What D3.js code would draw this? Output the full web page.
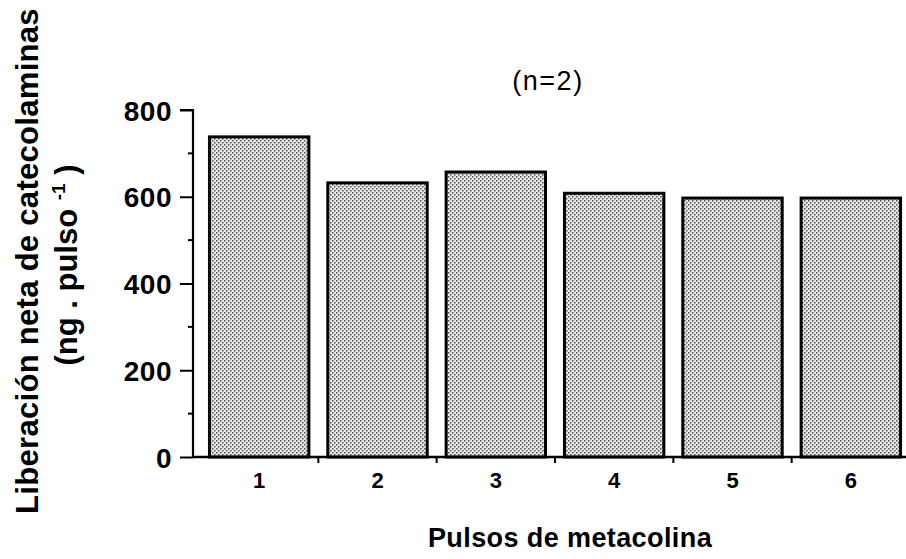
<!DOCTYPE html>
<html><head><meta charset="utf-8">
<script src="https://cdn.jsdelivr.net/npm/d3@7"></script>
<style>
html,body{margin:0;padding:0;background:#fff;}
text{font-family:"Liberation Sans",Arial,Helvetica,sans-serif;fill:#000;}
</style></head>
<body>
<svg id="chart" width="906" height="559"></svg>
<script>
const categories = ["1","2","3","4","5","6"];
const values = [738, 632, 657, 608, 597, 597];
const yTicks = [0, 200, 400, 600, 800];
const yMinorTicks = [100, 300, 500, 700];
const title = "(n=2)";
const xLabel = "Pulsos de metacolina";
const yLabel1 = "Liberación neta de catecolaminas";

const svg = d3.select("#chart");
const defs = svg.append("defs");
const pat = defs.append("pattern").attr("id","stip").attr("patternUnits","userSpaceOnUse")
  .attr("width",4).attr("height",4);
pat.append("rect").attr("width",4).attr("height",4).attr("fill","#e6e6e6");
pat.append("rect").attr("x",0).attr("y",0).attr("width",1.5).attr("height",1.5).attr("fill","#555");
pat.append("rect").attr("x",2).attr("y",2).attr("width",1.5).attr("height",1.5).attr("fill","#555");

const x = d3.scaleBand().domain(categories).range([200, 910]).paddingInner(0.16).paddingOuter(0.08);
const y = d3.scaleLinear().domain([0, 800]).range([457, 110]);
const axisX0 = 193, axisXEnd = 906;

// bars
svg.append("g").selectAll("rect").data(values).join("rect")
  .attr("x",(d,i)=>x(categories[i]))
  .attr("y",d=>y(d))
  .attr("width",x.bandwidth())
  .attr("height",d=>y(0)-y(d))
  .attr("fill","url(#stip)")
  .attr("stroke","#000").attr("stroke-width",3);

// y axis
const yAxis = d3.axisLeft(y).tickValues(yTicks).tickSize(13).tickPadding(8).tickFormat(d3.format("d"));
const gy = svg.append("g").attr("transform",`translate(${axisX0},0)`).call(yAxis);
gy.select(".domain").attr("stroke","#000").attr("stroke-width",2.2).attr("d",`M-13,${y(800)}H0V${y(0)}`);
gy.selectAll(".tick line").attr("stroke","#000").attr("stroke-width",2);
gy.selectAll(".tick text").attr("font-size",28).attr("font-weight","bold").attr("letter-spacing","0.5px").attr("dy","0.36em");
gy.selectAll(".minor").data(yMinorTicks).join("line").attr("class","minor")
  .attr("x1",-5).attr("x2",0).attr("y1",d=>y(d)).attr("y2",d=>y(d))
  .attr("stroke","#000").attr("stroke-width",2);

// x axis
const step = x.step();
const bounds = categories.slice(1).map(c => x(c) - step*x.paddingInner()/2);
const gx = svg.append("g");
gx.append("line").attr("x1",axisX0).attr("x2",axisXEnd).attr("y1",y(0)).attr("y2",y(0))
  .attr("stroke","#000").attr("stroke-width",2.5);
gx.selectAll(".xt").data(bounds).join("line").attr("class","xt")
  .attr("x1",d=>d).attr("x2",d=>d).attr("y1",y(0)).attr("y2",y(0)+6)
  .attr("stroke","#000").attr("stroke-width",2);
gx.selectAll(".xl").data(categories).join("text").attr("class","xl")
  .attr("x",d=>x(d)+x.bandwidth()/2).attr("y",488)
  .attr("text-anchor","middle").attr("font-size",22).attr("font-weight","bold").text(d=>d);

// x label
svg.append("text").attr("x",570).attr("y",547).attr("text-anchor","middle")
  .attr("font-size",27).attr("font-weight","bold").attr("letter-spacing","0.4px").text(xLabel);

// title
svg.append("text").attr("x",548).attr("y",90).attr("text-anchor","middle")
  .attr("font-size",27).attr("letter-spacing","1.5px").text(title);

// y labels
svg.append("text").attr("transform","translate(38,261) rotate(-90)").attr("text-anchor","middle")
  .attr("font-size",31).attr("font-weight","bold").attr("letter-spacing","0.3px").text(yLabel1);
const yl2 = svg.append("text").attr("transform","translate(77,265) rotate(-90)").attr("text-anchor","middle")
  .attr("font-size",31).attr("font-weight","bold");
yl2.append("tspan").text("(ng . pulso ");
yl2.append("tspan").attr("font-size",19).attr("dy",-12).text("-1");
yl2.append("tspan").attr("dy",12).text(" )");
</script>
</body></html>
